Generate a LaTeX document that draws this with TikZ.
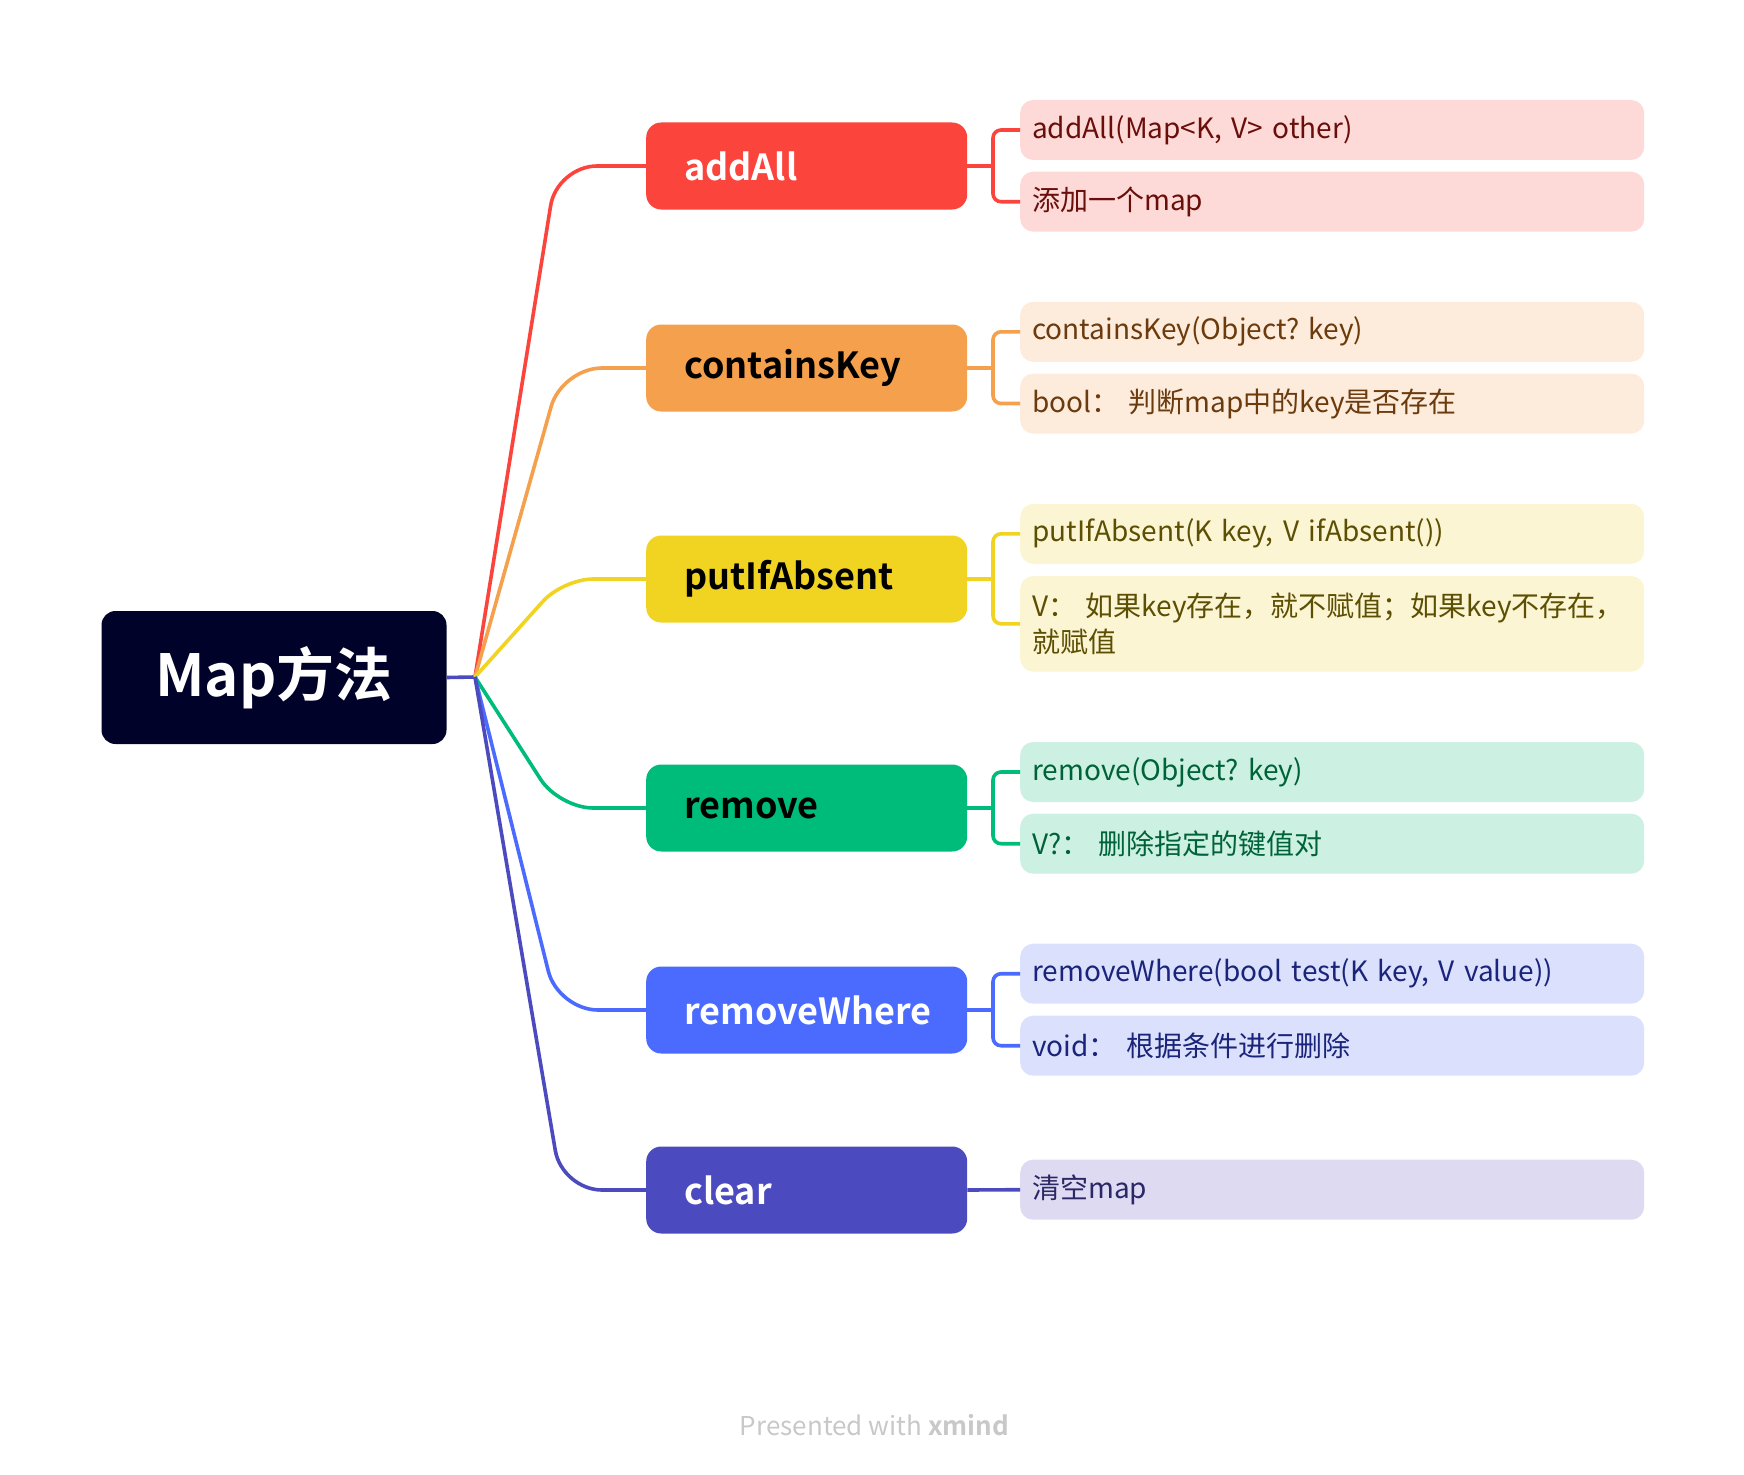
\documentclass[tikz,border=0pt]{standalone}
\usepackage{fontspec}
\setmainfont{Noto Sans CJK SC}[BoldFont={Noto Sans CJK SC Bold}]
\frenchspacing
\definecolor{rootbg}{HTML}{000229}
\definecolor{cRed}{HTML}{FA443C}
\definecolor{cOrange}{HTML}{F5A04D}
\definecolor{cYellow}{HTML}{F1D322}
\definecolor{cGreen}{HTML}{00BC7B}
\definecolor{cBlue}{HTML}{4A6BFE}
\definecolor{cIndigo}{HTML}{4C4ABF}
\definecolor{lRed}{HTML}{FDDAD8}
\definecolor{lOrange}{HTML}{FDEBDC}
\definecolor{lYellow}{HTML}{FCF5D3}
\definecolor{lGreen}{HTML}{CCF0E2}
\definecolor{lBlue}{HTML}{DBE1FD}
\definecolor{lIndigo}{HTML}{DDDAF1}
\definecolor{tRed}{HTML}{6A0E0A}
\definecolor{tOrange}{HTML}{6B3B0D}
\definecolor{tYellow}{HTML}{5C4F03}
\definecolor{tGreen}{HTML}{006238}
\definecolor{tBlue}{HTML}{1A247A}
\definecolor{tIndigo}{HTML}{2A2866}
\definecolor{footgray}{HTML}{C8C8C8}
\begin{document}
\begin{tikzpicture}[
x=1pt, y=-1pt,
root/.style={fill=rootbg, text=white, rounded corners=14pt, minimum width=345pt, minimum height=133pt, font=\bfseries\fontsize{58}{60}\selectfont},
branch/.style n args={2}{fill=#1, text=#2, rounded corners=15pt, anchor=west, minimum height=87pt, text width=245pt, inner xsep=38pt, align=left, font=\bfseries\fontsize{36}{40}\selectfont},
leaf/.style n args={2}{fill=#1, text=#2, rounded corners=13pt, anchor=west, minimum height=60pt, text width=600pt, inner xsep=12pt, align=left, font=\fontsize{28}{36}\selectfont},
link/.style={draw=#1, line width=3.6pt},
]
\useasboundingbox (0,0) rectangle (1744,1474);

% centre and branches
\node[root] (root) at (274,677.5) {Map方法};
\coordinate (hub) at (475,677);
\node[branch={cRed}{white}] (addAll) at (646,166) {addAll};
\node[branch={cOrange}{black}] (containsKey) at (646,368) {containsKey};
\node[branch={cYellow}{black}] (putIfAbsent) at (646,579) {putIfAbsent};
\node[branch={cGreen}{black}] (remove) at (646,808) {remove};
\node[branch={cBlue}{white}] (removeWhere) at (646,1010) {removeWhere};
\node[branch={cIndigo}{white}] (clear) at (646,1190) {clear};

% leaves
\node[leaf={lRed}{tRed}] (addAllA) at (1020,130) {addAll(Map<K, V> other)};
\node[leaf={lRed}{tRed}] (addAllB) at (1020,201.7) {添加一个map};
\node[leaf={lOrange}{tOrange}] (containsKeyA) at (1020,331.8) {containsKey(Object? key)};
\node[leaf={lOrange}{tOrange}] (containsKeyB) at (1020,403.5) {bool： 判断map中的key是否存在};
\node[leaf={lYellow}{tYellow}] (putIfAbsentA) at (1020,533.8) {putIfAbsent(K key, V ifAbsent())};
\node[leaf={lYellow}{tYellow}, minimum height=95.7pt] (putIfAbsentB) at (1020,623.8) {V： 如果key存在，就不赋值；如果key不存在，\\就赋值};
\node[leaf={lGreen}{tGreen}] (removeA) at (1020,772) {remove(Object? key)};
\node[leaf={lGreen}{tGreen}] (removeB) at (1020,843.7) {V?： 删除指定的键值对};
\node[leaf={lBlue}{tBlue}] (removeWhereA) at (1020,973.7) {removeWhere(bool test(K key, V value))};
\node[leaf={lBlue}{tBlue}] (removeWhereB) at (1020,1045.7) {void： 根据条件进行删除};
\node[leaf={lIndigo}{tIndigo}] (clearA) at (1020,1189.7) {清空map};

% connectors
\draw[link=cIndigo] (root.east) -- (hub);
\draw[link=cRed, rounded corners=40pt] (hub) -- (557,166) -- (addAll.west);
\draw[link=cOrange, rounded corners=40pt] (hub) -- (562,368) -- (containsKey.west);
\draw[link=cYellow, rounded corners=30pt] (hub) -- (563,579) -- (putIfAbsent.west);
\draw[link=cGreen, rounded corners=34pt] (hub) -- (559,808) -- (remove.west);
\draw[link=cBlue, rounded corners=40pt] (hub) -- (558,1010) -- (removeWhere.west);
\draw[link=cIndigo, rounded corners=40pt] (hub) -- (562,1190) -- (clear.west);

\draw[link=cRed] (addAll.east) -- ++(25,0);
\draw[link=cRed, rounded corners=8pt] (addAllA.west) -- ++(-27,0) |- (addAllB.west);
\draw[link=cOrange] (containsKey.east) -- ++(25,0);
\draw[link=cOrange, rounded corners=8pt] (containsKeyA.west) -- ++(-27,0) |- (containsKeyB.west);
\draw[link=cYellow] (putIfAbsent.east) -- ++(25,0);
\draw[link=cYellow, rounded corners=8pt] (putIfAbsentA.west) -- ++(-27,0) |- (putIfAbsentB.west);
\draw[link=cGreen] (remove.east) -- ++(25,0);
\draw[link=cGreen, rounded corners=8pt] (removeA.west) -- ++(-27,0) |- (removeB.west);
\draw[link=cBlue] (removeWhere.east) -- ++(25,0);
\draw[link=cBlue, rounded corners=8pt] (removeWhereA.west) -- ++(-27,0) |- (removeWhereB.west);
\draw[link=cIndigo] (clear.east) -- (clearA.west);

\node[font=\fontsize{26}{30}\selectfont, text=footgray] (credit) at (874.5,1425) {Presented with \textbf{xmind}};
\end{tikzpicture}
\end{document}
